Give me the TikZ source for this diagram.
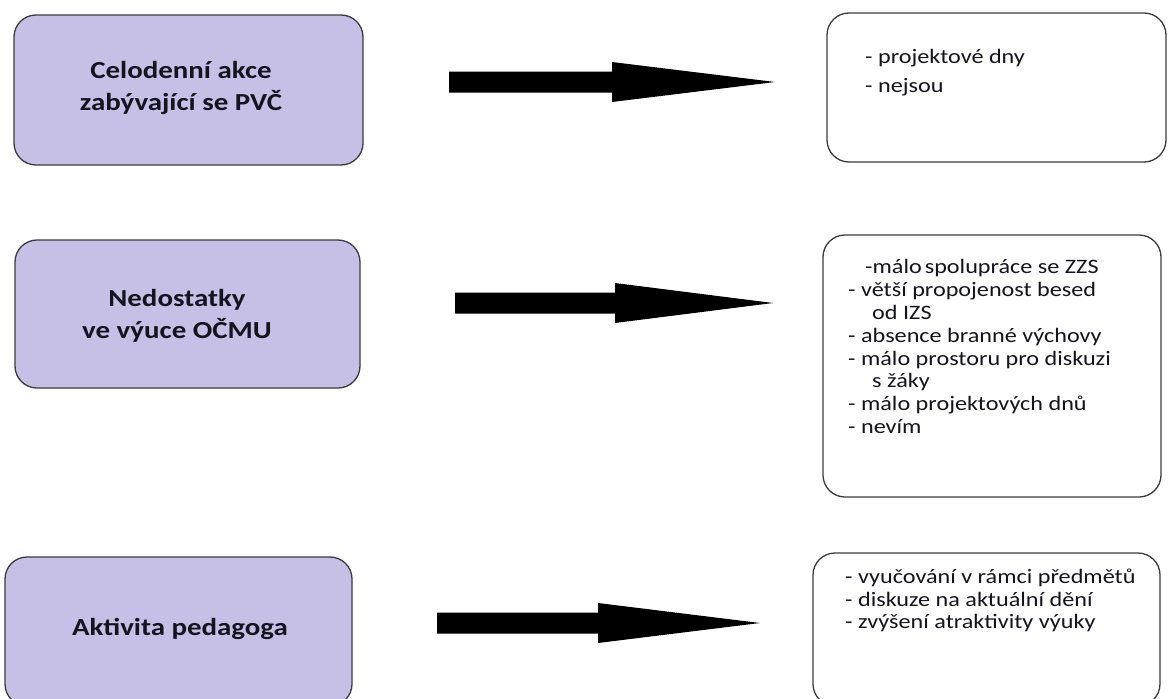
\documentclass[tikz,border=0pt]{standalone}
\usepackage{fontspec}
\usetikzlibrary{calc}
\setmainfont{Carlito}[FakeStretch=1.18]
\definecolor{lav}{RGB}{199,192,230}
\definecolor{boxline}{RGB}{60,60,64}
\definecolor{txt}{RGB}{20,20,30}
\begin{document}
\begin{tikzpicture}[x=1pt,y=-1pt,
  lbox/.style={draw=boxline, line width=1.3pt, fill=lav, rounded corners=22pt, inner sep=0pt},
  rbox/.style={draw=boxline, line width=1.3pt, fill=white, rounded corners=22pt, inner sep=0pt},
  ltext/.style={font=\fontsize{24.5}{32}\selectfont\bfseries, text=txt, inner sep=0pt, anchor=base},
  rtext/.style={font=\fontsize{20.5}{22.7}\selectfont, text=txt, inner sep=0pt, anchor=base west},
  blockarrow/.style={fill=black, draw=none}]
\useasboundingbox (0,0) rectangle (1168,699);
% left boxes
\node[lbox, minimum width=349pt, minimum height=150pt] (L1) at (188.5,90) {};
\node[lbox, minimum width=345pt, minimum height=148pt] (L2) at (187.5,314) {};
\node[lbox, minimum width=347pt, minimum height=149pt] (L3) at (178.5,631.5) {};
\node[ltext] (L1a) at (181,78) {Celodenní akce};
\node[ltext] (L1b) at (181,110) {zabývající se PVČ};
\node[ltext] (L2a) at (177,306) {Nedostatky};
\node[ltext] (L2b) at (177,338) {ve výuce OČMU};
\node[ltext] (L3a) at (180,635) {Aktivita pedagoga};
% right boxes
\node[rbox, minimum width=339pt, minimum height=149pt] (R1) at (996.5,87.5) {};
\node[rbox, minimum width=338pt, minimum height=262pt] (R2) at (992,366) {};
\node[rbox, minimum width=347pt, minimum height=153pt] (R3) at (986.5,629.5) {};
\node[rtext] (R1a) at (865,63) {- projektové dny};
\node[rtext] (R1b) at (865,92) {- nejsou};
\node[rtext] (R2a) at (865,273) {-málo\hspace{3pt}spolupráce se ZZS};
\node[rtext] (R2b) at (848,296) {- větší propojenost besed};
\node[rtext] (R2c) at (872,319) {od IZS};
\node[rtext] (R2d) at (848,342) {- absence branné výchovy};
\node[rtext] (R2e) at (848,365) {- málo prostoru pro diskuzi};
\node[rtext] (R2f) at (872,387) {s žáky};
\node[rtext] (R2g) at (848,410) {- málo projektových dnů};
\node[rtext] (R2h) at (848,433) {- nevím};
\node[rtext] (R3a) at (845,583) {- vyučování v rámci předmětů};
\node[rtext] (R3b) at (845,606) {- diskuze na aktuální dění};
\node[rtext] (R3c) at (845,628) {- zvýšení atraktivity výuky};
% block arrows
\coordinate (A1s) at (449,82); \coordinate (A1h) at (612,82); \coordinate (A1t) at (775,82);
\coordinate (A2s) at (455,303); \coordinate (A2h) at (615,303); \coordinate (A2t) at (773,303);
\coordinate (A3s) at (437,623); \coordinate (A3h) at (598,623); \coordinate (A3t) at (760,623);
\foreach \a in {A1,A2,A3}{
  \fill[blockarrow] ($(\a s)+(0,-10.5)$) -- ($(\a h)+(0,-10.5)$) -- ($(\a h)+(0,-20)$) -- (\a t)
     -- ($(\a h)+(0,20)$) -- ($(\a h)+(0,10.5)$) -- ($(\a s)+(0,10.5)$) -- cycle;
}
\end{tikzpicture}
\end{document}
